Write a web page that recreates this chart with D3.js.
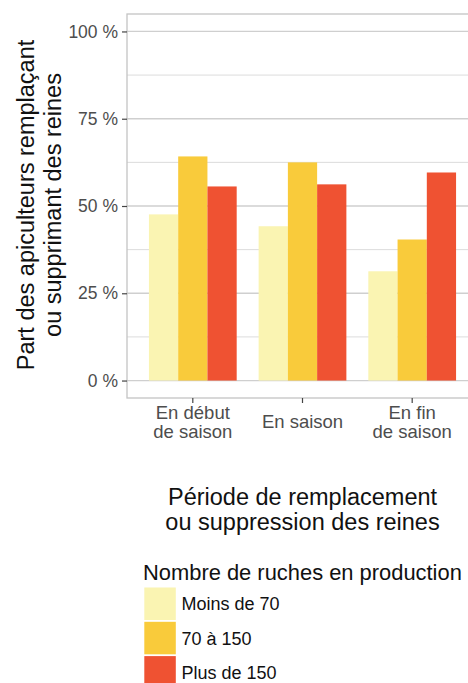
<!DOCTYPE html>
<html>
<head>
<meta charset="utf-8">
<script src="https://cdn.jsdelivr.net/npm/d3@7"></script>
<style>
  html, body { margin: 0; padding: 0; background: #fff; }
  svg { display: block; font-family: "Liberation Sans", Arial, sans-serif; }
</style>
</head>
<body>
<svg id="chart" width="468" height="683"></svg>
<script>
// Periods of queen replacement (x categories, multi-line labels)
const periods = ["En début\nde saison", "En saison", "En fin\nde saison"];
// Hive-count groups (legend / fill series)
const groups = ["Moins de 70", "70 à 150", "Plus de 150"];
const groupColors = ["#FAF4B2", "#F9CB3B", "#EF5232"];
// Share of beekeepers (%) per period, one array per hive group
const moinsDe70 = [47.6, 44.2, 31.3];
const de70a150 = [64.2, 62.5, 40.4];
const plusDe150 = [55.6, 56.2, 59.6];
const seriesValues = [moinsDe70, de70a150, plusDe150];
// Y axis ticks
const yTicks = [0, 25, 50, 75, 100];
const yTickLabels = ["0 %", "25 %", "50 %", "75 %", "100 %"];
const yMinor = [12.5, 37.5, 62.5, 87.5];

const svg = d3.select("#chart");

const panel = { left: 127, right: 478, top: 14, bottom: 398 };

const x = d3.scaleBand()
  .domain(periods)
  .range([panel.left, panel.right])
  .paddingInner(0.2)
  .paddingOuter(0.2);

const xInner = d3.scaleBand()
  .domain(groups)
  .range([0, x.bandwidth()]);

const y = d3.scaleLinear()
  .domain([-5, 105])
  .range([panel.bottom, panel.top]);

const color = d3.scaleOrdinal().domain(groups).range(groupColors);

// Grid lines
const grid = svg.append("g");
grid.selectAll("line.minor")
  .data(yMinor)
  .join("line")
  .attr("x1", panel.left).attr("x2", panel.right)
  .attr("y1", d => y(d)).attr("y2", d => y(d))
  .attr("stroke", "#dcdcdc").attr("stroke-width", 1);
grid.selectAll("line.major")
  .data(yTicks)
  .join("line")
  .attr("x1", panel.left).attr("x2", panel.right)
  .attr("y1", d => y(d)).attr("y2", d => y(d))
  .attr("stroke", "#cfcfcf").attr("stroke-width", 1.3);

// Bars
const rows = [];
periods.forEach((p, i) => {
  groups.forEach((g, j) => rows.push({ period: p, group: g, value: seriesValues[j][i] }));
});

svg.append("g")
  .selectAll("rect")
  .data(rows)
  .join("rect")
  .attr("x", d => x(d.period) + xInner(d.group))
  .attr("width", xInner.bandwidth())
  .attr("y", d => y(d.value))
  .attr("height", d => y(0) - y(d.value))
  .attr("fill", d => color(d.group));

// Panel border
svg.append("rect")
  .attr("x", panel.left).attr("y", panel.top)
  .attr("width", panel.right - panel.left)
  .attr("height", panel.bottom - panel.top)
  .attr("fill", "none")
  .attr("stroke", "#c4c4c4")
  .attr("stroke-width", 1.3);

// Y axis
const yAxis = d3.axisLeft(y)
  .tickValues(yTicks)
  .tickFormat((d, i) => yTickLabels[i])
  .tickSize(5)
  .tickPadding(4);
const gy = svg.append("g")
  .attr("transform", `translate(${panel.left},0)`)
  .call(yAxis);
gy.select(".domain").remove();
gy.selectAll(".tick line").attr("stroke", "#444").attr("stroke-width", 1.2);
gy.selectAll(".tick text")
  .attr("fill", "#4d4d4d")
  .style("font-size", "17.5px")
  .style("font-family", "'Liberation Sans', Arial, sans-serif");

// X axis
const xAxis = d3.axisBottom(x).tickSize(5).tickFormat("");
const gx = svg.append("g")
  .attr("transform", `translate(0,${panel.bottom})`)
  .call(xAxis);
gx.select(".domain").remove();
gx.selectAll(".tick line").attr("stroke", "#444").attr("stroke-width", 1.2);

// Multi-line x tick labels
const xLabels = svg.append("g")
  .attr("font-size", "18.5px")
  .attr("fill", "#4d4d4d")
  .attr("text-anchor", "middle");
periods.forEach(p => {
  const lines = p.split("\n");
  const lh = 19;
  const mid = 428.8;
  const first = mid - (lines.length - 1) * lh / 2 + (lines.length === 1 ? -0.5 : 0);
  const t = xLabels.append("text").attr("x", x(p) + x.bandwidth() / 2);
  lines.forEach((ln, k) => {
    t.append("tspan")
      .attr("x", x(p) + x.bandwidth() / 2)
      .attr("y", first + k * lh)
      .text(ln);
  });
});

// Axis titles
const cx = (panel.left + panel.right) / 2;
const xTitle = svg.append("text")
  .attr("text-anchor", "middle")
  .attr("font-size", "23.5px")
  .attr("fill", "#111");
["Période de remplacement", "ou suppression des reines"].forEach((ln, k) => {
  xTitle.append("tspan").attr("x", cx).attr("y", 504.5 + k * 25).text(ln);
});

const cy = (panel.top + panel.bottom) / 2 - 1;
const yTitle = svg.append("text")
  .attr("text-anchor", "middle")
  .attr("font-size", "23.5px")
  .attr("fill", "#111")
  .attr("transform", `rotate(-90)`);
["Part des apiculteurs remplaçant", "ou supprimant des reines"].forEach((ln, k) => {
  yTitle.append("tspan").attr("x", -cy).attr("y", 34 + k * 27).text(ln);
});

// Legend
const legend = svg.append("g");
legend.append("text")
  .attr("x", 143)
  .attr("y", 579.5)
  .attr("font-size", "21.9px")
  .attr("fill", "#111")
  .text("Nombre de ruches en production");

const keyTop = 587.5, keyStep = 34.3, keyW = 31.5, keyH = 32.5;
groups.forEach((g, i) => {
  legend.append("rect")
    .attr("x", 144.3)
    .attr("y", keyTop + i * keyStep)
    .attr("width", keyW)
    .attr("height", keyH)
    .attr("fill", color(g));
  legend.append("text")
    .attr("x", 181.5)
    .attr("y", keyTop + i * keyStep + keyH / 2 + 6.5)
    .attr("font-size", "18px")
    .attr("fill", "#111")
    .text(g);
});
</script>
</body>
</html>
